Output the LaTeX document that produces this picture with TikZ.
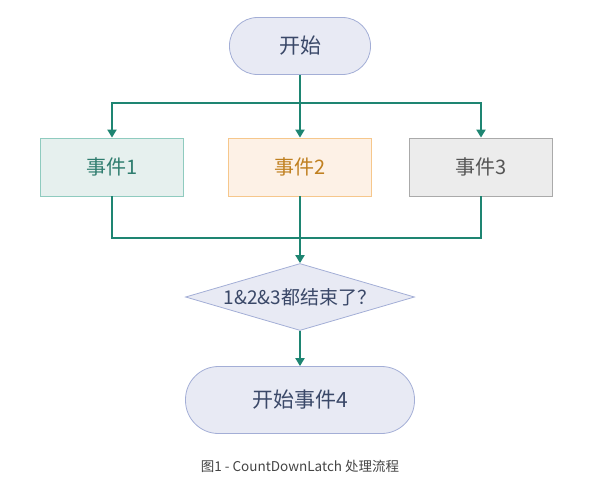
\documentclass[tikz,border=0pt]{standalone}
\usepackage{fontspec}
\setmainfont{Noto Sans CJK SC}
\usetikzlibrary{arrows.meta,shapes.geometric}
\definecolor{flowline}{HTML}{1E8572}
\definecolor{terminalfill}{HTML}{E8EAF4}
\definecolor{terminaldraw}{HTML}{A3AED6}
\definecolor{terminaltext}{HTML}{3A4868}
\begin{document}
\begin{tikzpicture}
[
    x=1pt, y=-1pt,
    terminal/.style={draw=terminaldraw, fill=terminalfill, text=terminaltext, line width=0.8pt, rounded corners=28pt, font=\fontsize{21}{24}\selectfont},
    eventbox/.style={draw, line width=0.8pt, minimum width=143pt, minimum height=58pt, font=\fontsize{20}{24}\selectfont},
    decision/.style={diamond, draw=terminaldraw, fill=terminalfill, text=terminaltext, line width=0.8pt, inner sep=0pt, minimum width=229pt, minimum height=67pt, aspect=3.4, font=\fontsize{19}{22}\selectfont},
    flow/.style={draw=flowline, line width=2pt, -{Triangle[length=8pt,width=9pt]}},
    plain/.style={draw=flowline, line width=2pt},
]
\useasboundingbox (0,0) rectangle (603,499);
\node [terminal, minimum width=141pt, minimum height=57pt] (start) at (300,46) {开始};
\node [eventbox, draw={rgb,255:red,143;green,203;blue,191}, fill={rgb,255:red,230;green,240;blue,238}, text={rgb,255:red,47;green,125;blue,111}] (event1) at (112,167) {事件1};
\node [eventbox, draw={rgb,255:red,246;green,199;blue,140}, fill={rgb,255:red,253;green,241;blue,230}, text={rgb,255:red,192;green,128;blue,32}] (event2) at (300,167) {事件2};
\node [eventbox, draw={rgb,255:red,170;green,170;blue,170}, fill={rgb,255:red,236;green,236;blue,236}, text={rgb,255:red,85;green,85;blue,85}] (event3) at (481,167) {事件3};
\node [decision] (check) at (300,297) {1\&2\&3都结束了？};
\node [terminal, minimum width=229pt, minimum height=67pt, rounded corners=33pt] (event4) at (300,400) {开始事件4};
\node [text={rgb,255:red,68;green,68;blue,68}, font=\fontsize{13.5}{16}\selectfont] (caption) at (300,466) {图1 - CountDownLatch 处理流程};
\coordinate (split) at (300,103);
\coordinate (join) at (300,238);
% fork
\draw [flow] (start) -- (event2);
\draw [flow] (split) -| (event1);
\draw [flow] (split) -| (event3);
% join
\draw [plain] (event1) |- (join) -| (event3);
\draw [flow] (event2) -- (check);
\draw [flow] (check) -- (event4);
\end{tikzpicture}
\end{document}
